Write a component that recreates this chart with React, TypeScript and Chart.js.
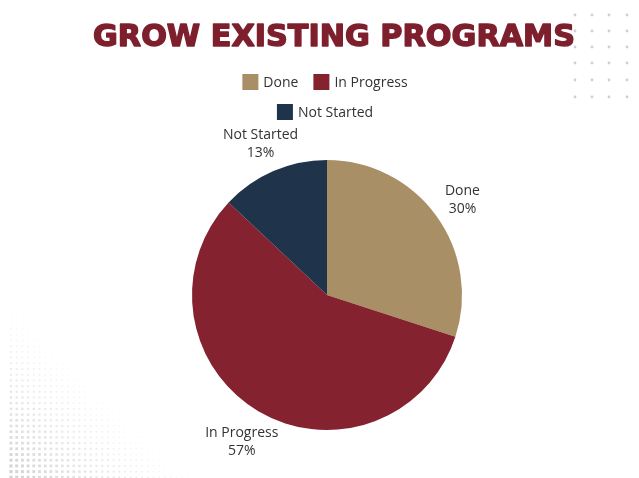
import React, { useEffect, useRef } from "react";
import { Chart, registerables } from "chart.js";

Chart.register(...registerables);

const TITLE = "GROW EXISTING PROGRAMS";
const categories = ["Done", "In Progress", "Not Started"];
const values = [30, 57, 13];
const colors = ["#A88F66", "#85222F", "#1F334B"];
const percentLabels = ["30%", "57%", "13%"];

const LABEL_FONT = '14px "Open Sans", "Noto Sans", sans-serif';

const decorPlugin = {
  id: "decor",
  beforeDraw(chart: any) {
    const ctx = chart.ctx;
    ctx.save();
    ctx.fillStyle = "#ffffff";
    ctx.fillRect(0, 0, chart.width, chart.height);
    // top-right dot grid
    ctx.fillStyle = "#cfcfcf";
    const xs = [575, 592, 609, 627];
    const ys = [15, 31, 47, 63, 80, 97];
    for (const y of ys) for (const x of xs) {
      ctx.beginPath();
      ctx.arc(x, y, 1.4, 0, Math.PI * 2);
      ctx.fill();
    }
    // bottom-left halftone
    for (let y = 312; y < 478; y += 5.7) {
      for (let x = 11; x < 200; x += 5.7) {
        const t = (x - 11) / 180 + (478 - y) / 175;
        if (t > 1) continue;
        const s = 3.2 * (1 - 0.6 * t);
        const g = Math.round(210 + 42 * t);
        ctx.fillStyle = `rgb(${g},${g},${g})`;
        ctx.fillRect(x - s / 2, y - s / 2, s, s);
      }
    }
    ctx.restore();
  },
  afterDraw(chart: any) {
    const ctx = chart.ctx;
    ctx.save();
    // title
    ctx.fillStyle = "#7E1F2D";
    ctx.strokeStyle = "#7E1F2D";
    ctx.lineWidth = 1.5;
    ctx.lineJoin = "round";
    ctx.font = 'bold 31px "DejaVu Sans", "Liberation Sans", sans-serif';
    ctx.textBaseline = "alphabetic";
    ctx.textAlign = "left";
    const w = ctx.measureText(TITLE).width;
    const target = 482;
    ctx.save();
    ctx.translate(93, 46);
    ctx.scale(target / w, 1);
    ctx.fillText(TITLE, 0, 0);
    ctx.strokeText(TITLE, 0, 0);
    ctx.restore();

    // legend
    ctx.font = LABEL_FONT;
    ctx.textBaseline = "middle";
    const rows = [[0, 1], [2]];
    const rowY = [82, 112];
    rows.forEach((row, ri) => {
      const items = row.map((i) => ({ i, tw: ctx.measureText(categories[i]).width }));
      const total = items.reduce((a, it) => a + 16 + 5 + it.tw, 0) + (items.length - 1) * 15;
      let x = 325 - total / 2;
      for (const it of items) {
        ctx.fillStyle = colors[it.i];
        ctx.fillRect(x, rowY[ri] - 8, 16, 16);
        ctx.fillStyle = "#333333";
        ctx.textAlign = "left";
        ctx.fillText(categories[it.i], x + 21, rowY[ri] + 1);
        x += 16 + 5 + it.tw + 15;
      }
    });

    // outside labels
    const meta = chart.getDatasetMeta(0);
    ctx.textAlign = "center";
    ctx.fillStyle = "#333333";
    meta.data.forEach((arc: any, i: number) => {
      const mid = (arc.startAngle + arc.endAngle) / 2;
      const r = arc.outerRadius * 1.24;
      const x = arc.x + Math.cos(mid) * r;
      const y = arc.y + Math.sin(mid) * r + 3;
      ctx.fillText(categories[i], x, y - 9);
      ctx.fillText(percentLabels[i], x, y + 9);
    });
    ctx.restore();
  },
};

export default function App() {
  const ref = useRef<HTMLCanvasElement>(null);
  useEffect(() => {
    const chart = new Chart(ref.current!, {
      type: "pie",
      data: {
        labels: categories,
        datasets: [
          {
            data: values,
            backgroundColor: colors,
            borderWidth: 0,
          },
        ],
      },
      options: {
        animation: false,
        responsive: false,
        layout: { padding: { top: 160, bottom: 48, left: 100, right: 85 } },
        plugins: {
          legend: { display: false },
          title: { display: false },
          tooltip: { enabled: false },
        },
      },
      plugins: [decorPlugin],
    });
    return () => chart.destroy();
  }, []);
  return (
    <div style={{ position: "absolute", left: 0, top: 0, width: 639, height: 478 }}>
      <canvas ref={ref} width={639} height={478} style={{ display: "block" }} />
    </div>
  );
}
